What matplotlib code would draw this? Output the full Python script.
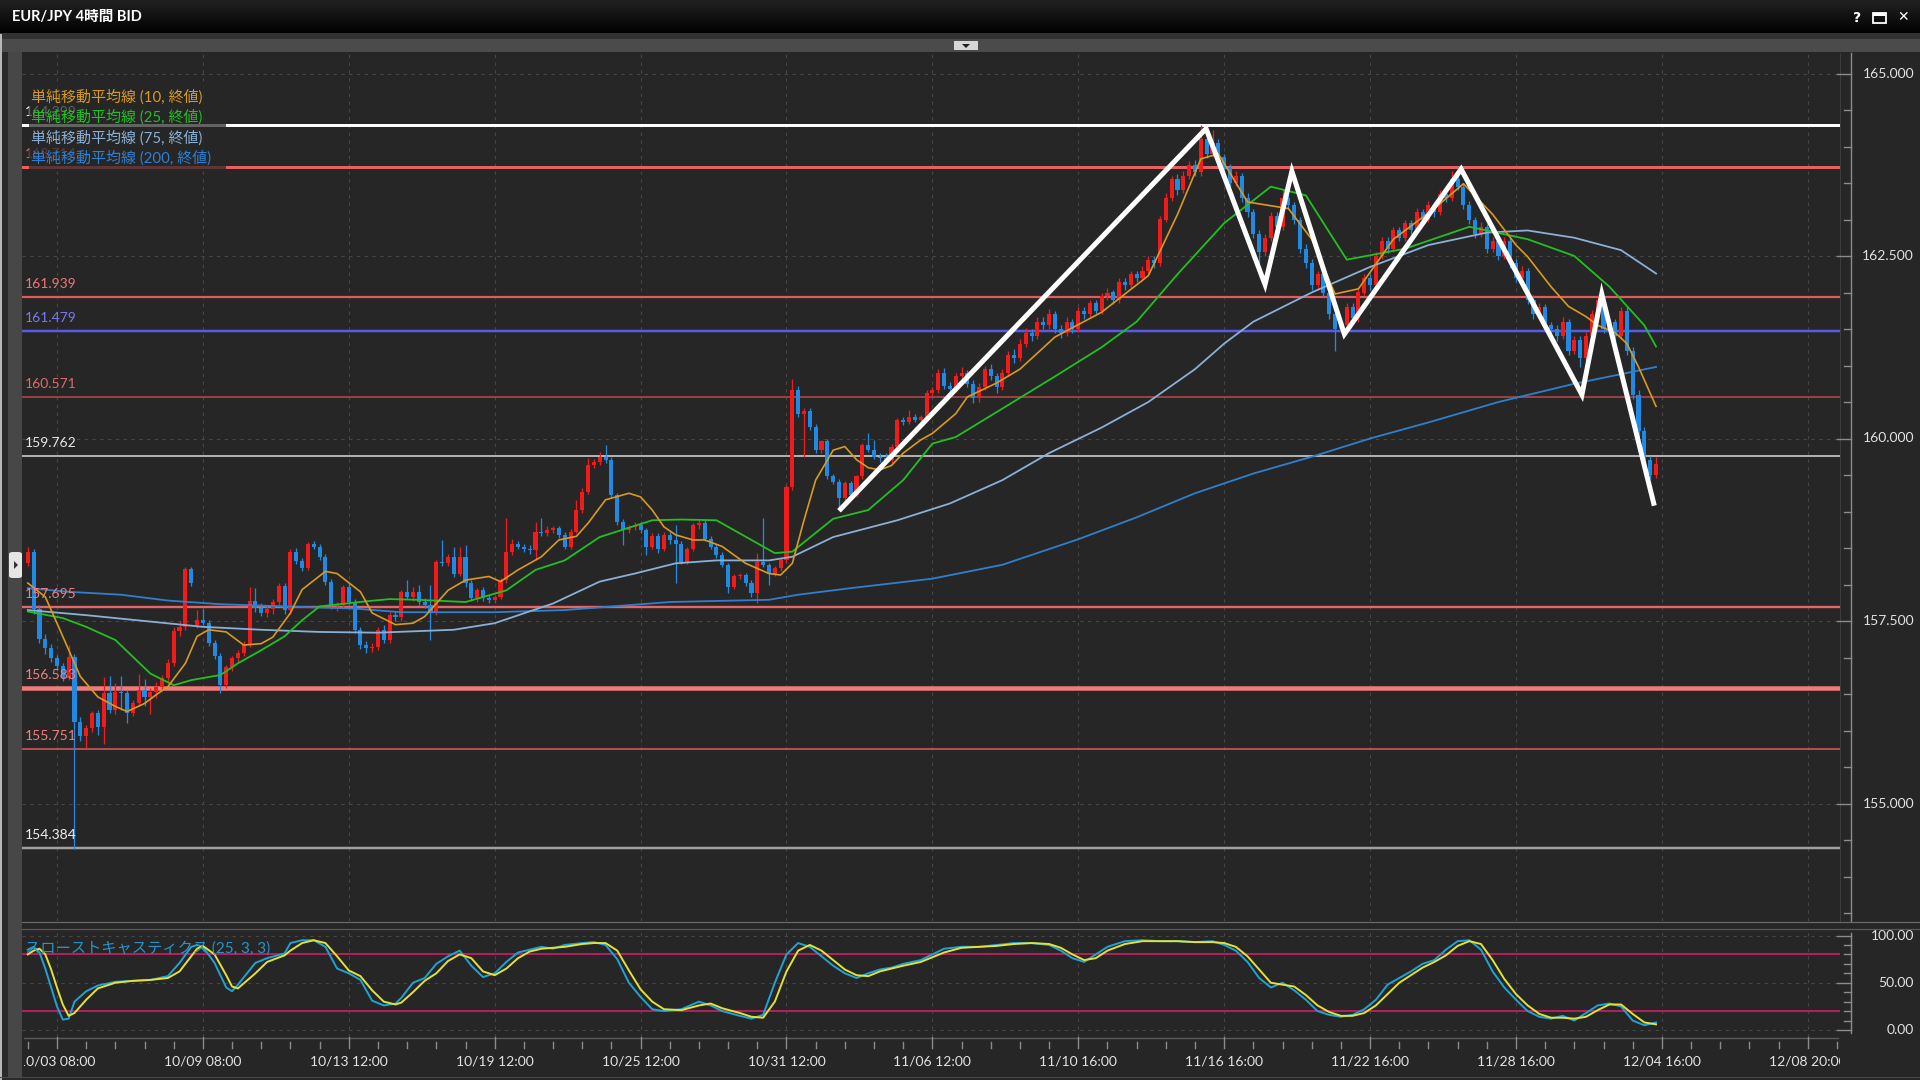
import numpy as np
import matplotlib
matplotlib.use("Agg")
import matplotlib.pyplot as plt
from matplotlib.patches import Rectangle, Polygon, FancyBboxPatch
from matplotlib.lines import Line2D
import matplotlib.transforms as mtransforms

# ---------------- data (EUR/JPY 4H candles) ----------------
opens = [
    158.29,158.45,157.67,157.26,157.13,156.99,156.88,156.72,157.01,156.12,
    155.92,156.03,156.24,156.05,156.51,156.28,156.53,156.51,156.24,156.37,
    156.56,156.46,156.53,156.60,156.72,156.92,157.36,157.42,158.21,157.44,
    157.51,157.47,157.20,157.02,156.62,156.87,156.99,157.06,157.17,157.77,
    157.68,157.61,157.66,157.76,157.98,157.65,158.45,158.32,158.22,158.56,
    158.52,158.38,158.04,157.70,157.72,157.97,157.76,157.38,157.17,157.13,
    157.15,157.38,157.24,157.58,157.56,157.90,157.83,157.90,157.76,157.72,
    157.62,158.31,158.29,158.38,158.15,158.38,158.02,157.81,157.92,157.81,
    157.79,157.83,158.06,158.45,158.56,158.52,158.49,158.47,158.72,158.70,
    158.75,158.77,158.68,158.52,158.72,159.02,159.27,159.64,159.68,159.75,
    159.71,159.23,158.86,158.75,158.79,158.81,158.75,158.52,158.66,158.49,
    158.68,158.61,158.56,158.31,158.49,158.81,158.84,158.63,158.52,158.40,
    158.27,157.97,158.11,158.13,158.02,157.88,158.31,158.27,158.15,158.22,
    158.34,159.34,160.66,160.34,160.38,160.16,159.84,159.96,159.48,159.41,
    159.18,159.39,159.23,159.48,159.91,159.84,159.75,159.73,159.70,159.89,
    160.25,160.23,160.30,160.25,160.30,160.62,160.66,160.90,160.72,160.68,
    160.85,160.90,160.75,160.55,160.70,160.95,160.85,160.70,160.90,161.15,
    161.10,161.30,161.45,161.40,161.60,161.55,161.70,161.50,161.45,161.60,
    161.50,161.75,161.70,161.85,161.75,161.95,162.00,161.90,162.15,162.10,
    162.25,162.20,162.30,162.45,162.40,163.00,163.30,163.55,163.40,163.60,
    163.75,163.65,164.10,163.90,164.05,163.85,163.70,163.50,163.60,163.30,
    163.10,162.80,162.55,162.75,163.05,162.90,163.30,163.20,163.00,162.60,
    162.40,162.10,162.25,162.00,161.70,161.50,161.55,161.80,161.65,162.00,
    162.20,162.10,162.50,162.70,162.60,162.85,162.75,162.95,162.85,163.10,
    163.00,163.20,163.10,163.35,163.30,163.55,163.45,163.20,163.00,162.80,
    162.90,162.60,162.70,162.50,162.70,162.40,162.20,162.30,161.90,161.70,
    161.80,161.55,161.50,161.40,161.60,161.20,161.35,161.10,161.40,161.70,
    161.90,161.50,161.60,161.40,161.75,161.20,160.60,160.10,159.70,159.50,
]
closes = [
    158.45,157.67,157.26,157.13,156.99,156.88,156.72,157.01,156.12,155.92,
    156.03,156.24,156.05,156.51,156.28,156.53,156.51,156.24,156.37,156.56,
    156.46,156.53,156.60,156.72,156.92,157.36,157.42,158.21,158.02,157.51,
    157.47,157.20,157.02,156.62,156.87,156.99,157.06,157.17,157.77,157.68,
    157.61,157.66,157.76,157.98,157.65,158.45,158.32,158.22,158.56,158.52,
    158.38,158.04,157.70,157.72,157.97,157.76,157.38,157.17,157.13,157.15,
    157.38,157.24,157.58,157.56,157.90,157.83,157.90,157.76,157.72,157.62,
    158.31,158.29,158.38,158.15,158.38,158.02,157.81,157.92,157.81,157.79,
    157.83,158.06,158.45,158.56,158.52,158.49,158.47,158.72,158.70,158.75,
    158.77,158.68,158.52,158.72,159.02,159.27,159.64,159.68,159.75,159.71,
    159.23,158.86,158.75,158.79,158.81,158.75,158.52,158.66,158.49,158.68,
    158.61,158.56,158.31,158.49,158.81,158.84,158.63,158.52,158.40,158.27,
    157.97,158.11,158.13,158.02,157.88,158.31,158.27,158.15,158.22,158.34,
    159.34,160.66,160.34,160.38,160.16,159.84,159.96,159.48,159.41,159.18,
    159.39,159.23,159.48,159.91,159.84,159.75,159.73,159.70,159.89,160.25,
    160.23,160.30,160.25,160.30,160.62,160.66,160.90,160.72,160.68,160.85,
    160.90,160.75,160.55,160.70,160.95,160.85,160.70,160.90,161.15,161.10,
    161.30,161.45,161.40,161.60,161.55,161.70,161.50,161.45,161.60,161.50,
    161.75,161.70,161.85,161.75,161.95,162.00,161.90,162.15,162.10,162.25,
    162.20,162.30,162.45,162.40,163.00,163.30,163.55,163.40,163.60,163.75,
    163.65,164.10,163.90,164.05,163.85,163.70,163.50,163.60,163.30,163.10,
    162.80,162.55,162.75,163.05,162.90,163.30,163.20,163.00,162.60,162.40,
    162.10,162.25,162.00,161.70,161.50,161.55,161.80,161.65,162.00,162.20,
    162.10,162.50,162.70,162.60,162.85,162.75,162.95,162.85,163.10,163.00,
    163.20,163.10,163.35,163.30,163.55,163.45,163.20,163.00,162.80,162.90,
    162.60,162.70,162.50,162.70,162.40,162.20,162.30,161.90,161.70,161.80,
    161.55,161.50,161.40,161.60,161.20,161.35,161.10,161.40,161.70,161.90,
    161.50,161.60,161.40,161.75,161.20,160.60,160.10,159.70,159.50,159.65,
]
highs = [
    158.52,158.48,157.72,157.32,157.18,157.04,156.92,157.17,157.05,156.18,
    156.08,156.27,156.28,156.73,156.74,156.65,156.74,156.56,156.42,156.78,
    156.71,156.58,156.66,156.76,156.98,157.42,157.50,158.24,158.24,157.65,
    157.66,157.52,157.24,157.06,156.90,157.02,157.10,157.22,157.97,157.95,
    157.74,157.70,157.80,158.02,158.02,158.48,158.50,158.36,158.58,158.60,
    158.55,158.42,158.08,157.76,158.00,158.02,157.80,157.42,157.22,157.20,
    157.42,157.44,157.62,157.64,157.93,158.06,157.96,157.99,157.82,157.99,
    158.34,158.61,158.42,158.52,158.52,158.54,158.06,157.95,157.96,157.86,
    157.86,158.09,158.91,158.63,158.60,158.56,158.54,158.86,158.91,158.80,
    158.80,158.80,158.72,158.76,159.16,159.32,159.73,159.72,159.82,159.91,
    159.74,159.26,158.90,158.82,158.86,158.86,158.78,158.70,158.70,158.72,
    158.72,158.81,158.60,158.52,158.84,158.88,158.88,158.66,158.56,158.44,
    158.30,158.14,158.16,158.16,158.06,158.43,158.91,158.30,158.26,158.36,
    159.36,160.82,160.72,160.42,160.42,160.20,159.98,160.00,159.52,159.45,
    159.42,159.42,159.50,159.94,160.07,159.98,159.80,159.80,159.92,160.28,
    160.30,160.39,160.34,160.32,160.66,160.70,160.95,160.96,160.78,160.90,
    160.98,160.94,160.80,160.76,161.00,161.02,160.90,160.95,161.20,161.22,
    161.36,161.52,161.50,161.66,161.66,161.78,161.74,161.56,161.66,161.64,
    161.80,161.80,161.90,161.90,162.00,162.06,162.04,162.20,162.20,162.30,
    162.30,162.36,162.50,162.50,163.05,163.36,163.60,163.62,163.66,163.80,
    163.82,164.30,164.16,164.22,164.10,163.90,163.76,163.66,163.64,163.36,
    163.14,162.86,162.80,163.10,163.10,163.40,163.36,163.24,163.04,162.66,
    162.46,162.30,162.30,162.06,161.76,161.60,161.86,161.86,162.06,162.26,
    162.26,162.56,162.76,162.76,162.90,162.90,163.00,163.00,163.16,163.14,
    163.26,163.24,163.40,163.40,163.66,163.70,163.50,163.26,163.04,162.96,
    162.94,162.76,162.74,162.76,162.74,162.46,162.36,162.34,161.96,161.86,
    161.84,161.60,161.56,161.66,161.64,161.40,161.40,161.46,161.76,161.96,
    161.94,161.66,161.64,161.80,161.80,161.26,160.66,160.16,159.76,159.74,
]
lows = [
    158.25,157.60,157.20,157.05,156.94,156.83,156.68,156.69,154.38,155.85,
    155.76,155.98,155.94,155.82,156.24,156.22,156.28,156.10,156.20,156.33,
    156.33,156.23,156.45,156.55,156.68,156.88,157.30,157.38,157.98,157.40,
    157.44,157.16,156.98,156.51,156.58,156.82,156.94,157.02,157.14,157.63,
    157.57,157.55,157.60,157.72,157.60,157.60,158.28,158.18,158.20,158.48,
    158.34,158.00,157.66,157.64,157.68,157.72,157.34,157.12,157.06,157.08,
    157.10,157.20,157.20,157.50,157.50,157.80,157.78,157.72,157.68,157.24,
    157.58,158.26,158.26,158.10,158.12,157.97,157.78,157.76,157.78,157.74,
    157.74,157.80,158.02,158.40,158.48,158.44,158.42,158.34,158.66,158.66,
    158.70,158.64,158.48,158.48,158.70,158.98,159.24,159.60,159.64,159.66,
    159.18,158.82,158.54,158.70,158.74,158.70,158.40,158.48,158.43,158.46,
    158.56,158.02,158.28,158.28,158.46,158.76,158.60,158.48,158.36,158.24,
    157.88,157.94,158.08,157.98,157.83,157.74,158.24,158.00,158.12,158.18,
    158.30,159.30,160.30,159.75,160.12,159.80,159.80,159.45,159.38,159.02,
    159.14,159.20,159.20,159.45,159.82,159.72,159.68,159.66,159.66,159.86,
    160.18,160.20,160.22,160.20,160.26,160.58,160.62,160.68,160.60,160.64,
    160.80,160.70,160.48,160.50,160.66,160.80,160.62,160.66,160.86,161.04,
    161.06,161.26,161.34,161.36,161.50,161.50,161.44,161.38,161.40,161.44,
    161.46,161.64,161.66,161.70,161.70,161.90,161.84,161.86,162.04,162.06,
    162.14,162.16,162.26,162.34,162.36,162.96,163.26,163.34,163.36,163.56,
    163.60,163.60,163.84,163.86,163.80,163.64,163.44,163.46,163.24,163.04,
    162.74,162.40,162.50,162.70,162.84,162.86,163.14,162.94,162.54,162.34,
    162.04,162.04,161.94,161.64,161.20,161.44,161.50,161.60,161.60,161.96,
    162.04,162.06,162.46,162.54,162.56,162.70,162.70,162.80,162.80,162.94,
    162.96,163.04,163.06,163.24,163.26,163.40,163.14,162.94,162.74,162.76,
    162.54,162.56,162.44,162.46,162.34,162.14,162.16,161.84,161.64,161.66,
    161.50,161.44,161.34,161.36,161.14,161.16,160.98,161.06,161.36,161.66,
    161.44,161.46,161.34,161.36,161.14,160.54,160.04,159.64,159.44,159.46,
]

# simple moving averages (at sample bars)
sma10_x = [0,3,5,9,12,15,17,20,22,24,27,29,31,34,37,40,42,45,47,51,53,57,59,63,66,
           68,72,75,79,81,84,88,91,94,96,99,103,105,107,109,111,114,116,119,123,127,129,
           131,133,135,138,140,142,144,146,148,150,153,155,159,161,166,170,176,184,192,
           197,201,204,209,216,220,224,228,234,241,246,251,255,257,261,264,267,269,272,274,276,279]
sma10_y = [158.02,157.83,157.47,156.74,156.46,156.33,156.26,156.37,156.49,156.60,156.92,157.29,
           157.38,157.35,157.17,157.19,157.28,157.61,157.93,158.18,158.15,157.90,157.61,157.45,157.47,
           157.56,157.92,158.06,158.11,158.04,158.20,158.38,158.61,158.66,158.84,159.16,159.25,159.20,
           159.02,158.79,158.68,158.61,158.61,158.52,158.29,158.15,158.13,
           158.29,158.88,159.43,159.84,159.89,159.71,159.60,159.57,159.63,159.80,159.98,160.07,160.34,
           160.57,160.76,160.95,161.39,161.73,162.23,163.07,163.83,163.90,163.24,163.15,162.73,161.98,
           162.05,162.73,163.15,163.49,163.07,162.65,162.49,162.08,161.81,161.67,161.55,161.45,161.30,160.98,160.44]
sma25_x = [0,6,10,15,18,21,25,28,33,36,40,44,47,50,58,62,67,75,82,87,92,98,107,112,118,
           124,128,131,138,144,150,155,159,167,176,184,190,197,205,213,219,226,236,247,
           257,265,271,277,279]
sma25_y = [157.63,157.54,157.42,157.24,157.01,156.78,156.62,156.69,156.76,156.92,157.10,157.29,
           157.51,157.70,157.77,157.80,157.79,157.76,157.92,158.20,158.33,158.65,158.88,158.89,158.88,
           158.61,158.43,158.45,158.90,159.02,159.43,159.93,160.02,160.41,160.85,161.25,161.6,162.25,
           162.95,163.45,163.33,162.45,162.6,162.9,162.73,162.5,162.08,161.55,161.26]
sma75_x = [0,10,20,30,40,50,60,73,80,90,98,104,111,118,127,131,138,149,158,167,175,
           184,192,200,205,210,220,230,240,250,257,265,273,279]
sma75_y = [157.65,157.58,157.50,157.42,157.38,157.35,157.34,157.38,157.47,157.74,158.04,158.15,
           158.29,158.33,158.33,158.38,158.65,158.88,159.11,159.43,159.80,160.15,160.50,160.95,
           161.30,161.60,162.00,162.35,162.65,162.82,162.85,162.75,162.58,162.26]
sma200_x = [0,7,16,24,33,44,56,64,80,92,110,121,127,132,141,155,167,180,190,200,210,220,
            230,240,252,265,279]
sma200_y = [157.95,157.90,157.86,157.78,157.73,157.70,157.67,157.62,157.62,157.65,157.76,157.78,
            157.79,157.86,157.95,158.08,158.27,158.62,158.92,159.25,159.52,159.75,160.00,160.22,
            160.50,160.75,160.98]

# slow stochastics (25, 3, 3)
stoch_x = [0,1,2,3,4,5,6,7,8,10,12,15,18,21,24,26,28,29,30,32,34,35,36,39,41,44,45,47,49,51,53,
           55,57,59,61,63,64,66,68,70,72,74,76,78,80,82,84,86,88,90,92,95,97,99,101,103,105,107,
           109,112,115,117,119,122,124,126,128,130,132,134,136,138,140,142,144,146,148,150,153,155,
           157,160,163,166,169,172,175,177,179,181,183,185,188,191,194,197,200,203,205,207,209,211,
           213,215,217,219,221,223,225,227,229,231,233,235,237,239,241,243,245,247,249,251,253,255,
           257,259,261,263,265,267,269,271,273,275,277,279]
stoch_k = [85,88,82,65,45,25,11,12,30,41,47,51,52,53,57,71,88,90,88,71,45,41,48,71,76,81,92,95,95,88,65,
           60,53,31,26,28,34,50,55,70,78,84,68,56,60,72,82,85,88,86,90,92,93,90,75,50,35,22,
           20,22,30,26,20,15,12,16,50,80,92,88,78,68,60,55,60,64,66,70,74,80,
           86,88,88,90,92,92,90,84,76,72,80,88,94,95,94,94,93,94,90,84,72,55,
           45,50,42,32,20,16,14,16,22,32,48,55,62,70,74,85,94,95,85,62,45,32,
           20,14,12,15,10,18,26,28,25,10,5,8]
stoch_d = [80,84,86,80,64,45,27,15,18,32,44,50,52,53,55,62,78,86,89,80,58,46,44,60,72,79,84,92,95,92,78,
           63,57,42,30,27,29,40,52,60,73,80,76,62,58,65,76,83,86,87,88,91,92,92,84,63,43,30,
           22,21,26,28,23,18,14,13,30,62,84,90,84,74,64,58,57,62,65,68,72,77,
           82,87,88,89,91,92,91,87,80,74,76,84,91,94,94,94,93,93,92,88,78,64,
           50,48,46,37,26,19,15,15,18,26,38,50,58,66,72,79,89,94,91,74,54,38,
           26,17,13,13,12,14,21,27,27,17,8,6]

# horizontal price levels
level_values = [164.299, 163.714, 161.939, 161.479, 160.571, 159.762, 157.695, 156.583, 155.751, 154.384]
level_labels = ['164.299', '163.714', '161.939', '161.479', '160.571', '159.762',
                '157.695', '156.583', '155.751', '154.384']

# hand-drawn pattern (white polyline)
pattern_x = [139.0, 201.9, 212.0, 216.6, 225.6, 245.6, 266.3, 269.7, 278.7]
pattern_y = [159.01, 164.245, 162.11, 163.66, 161.43, 163.69, 160.60, 161.98, 159.08]

x_label_idx = [5, 30, 55, 80, 105, 130, 155, 180, 205, 230, 255, 280, 305]
x_labels = ['10/03 08:00', '10/09 08:00', '10/13 12:00', '10/19 12:00', '10/25 12:00',
            '10/31 12:00', '11/06 12:00', '11/10 16:00', '11/16 16:00', '11/22 16:00',
            '11/28 16:00', '12/04 16:00', '12/08 20:00']
price_ticks = [155.0, 157.5, 160.0, 162.5, 165.0]
stoch_ticks = [0, 50, 100]

legend_labels = ['単純移動平均線 (10, 終値)', '単純移動平均線 (25, 終値)',
                 '単純移動平均線 (75, 終値)', '単純移動平均線 (200, 終値)']

# ---------------- styles ----------------
W, H = 1920, 1080
BG = '#262626'
RED = '#f21b1b'
BLUE = '#2289e3'
C10, C25, C75, C200 = '#d89a22', '#22c022', '#8ab0d6', '#2f7fd0'
level_colors = ['#ffffff', '#e85f5f', '#e35a5a', '#5a5ae8', '#b04a4a', '#b0b0b0',
                '#e46666', '#f27a7a', '#d25a5a', '#a0a0a0']
level_lw_px = [3.0, 3.0, 2.2, 2.5, 1.6, 2.0, 2.4, 4.5, 1.6, 2.5]
level_txt_colors = ['#ffffff', '#ef6b6b', '#ee7777', '#7a7af2', '#dd6a6a', '#e8e8e8',
                    '#ee8080', '#ee8080', '#ee8080', '#eeeeee']
NUMFONT = 'Lato'
JPFONT = ['Lato', 'Noto Sans CJK JP', 'DejaVu Sans']

X0_PX, BAR_PX = 27.8, 5.836
def px2i(px):
    return (px - X0_PX) / BAR_PX
def py2price(py):
    return 165.0 - (py - 73.5) / 73.0
def py2stoch(py):
    return (1030.0 - py) / 0.945
PT = 0.72  # points per pixel at dpi 100

fig = plt.figure(figsize=(19.2, 10.8), dpi=100)
fig.patch.set_facecolor(BG)

def add_ax(x0, y0, x1, y1, z=0):
    a = fig.add_axes([x0 / W, 1 - y1 / H, (x1 - x0) / W, (y1 - y0) / H], zorder=z)
    a.set_axis_off()
    return a

def frect(x0, y0, x1, y1, color, z=-1, alpha=1.0):
    fig.add_artist(Rectangle((x0 / W, 1 - y1 / H), (x1 - x0) / W, (y1 - y0) / H,
                             transform=fig.transFigure, facecolor=color, edgecolor='none',
                             zorder=z, alpha=alpha))

def fline(x0, y0, x1, y1, color, lw_px, z=5):
    fig.add_artist(Line2D([x0 / W, x1 / W], [1 - y0 / H, 1 - y1 / H], transform=fig.transFigure,
                          color=color, lw=lw_px * PT, zorder=z))

def ftext(x, y, s, **kw):
    fig.text(x / W, 1 - y / H, s, **kw)

# ---------------- window chrome ----------------
tb = add_ax(0, 0, 1920, 34, z=-2)
grad = np.linspace(0.13, 0.0, 50).reshape(-1, 1)
tb.imshow(np.dstack([grad, grad, grad]), aspect='auto', extent=[0, 1, 0, 1])
frect(0, 33, 1920, 39, '#323232')
frect(0, 39, 1920, 52, '#4b4b4b')
frect(0, 52, 22, 1080, '#2a2a2a')
frect(8, 52, 22, 1078, '#474747')
frect(0, 34, 2, 1080, '#b8b8b8')
frect(954, 41, 978, 50, '#d6d6d6', z=3)
fig.add_artist(Polygon([[962 / W, 1 - 44 / H], [970 / W, 1 - 44 / H], [966 / W, 1 - 48 / H]],
                       closed=True, transform=fig.transFigure, facecolor='#202020', zorder=4))
ftext(12, 17, 'EUR/JPY 4時間 BID', family=JPFONT, fontsize=10.5, fontweight='bold',
      color='white', va='center', ha='left')
ftext(1857, 18, '?', family='DejaVu Sans', fontsize=10, fontweight='bold', color='white',
      va='center', ha='center')
fig.add_artist(Rectangle((1873 / W, 1 - 23 / H), 13 / W, 10 / H, transform=fig.transFigure,
                         facecolor='none', edgecolor='white', lw=1.3, zorder=3))
fig.add_artist(Rectangle((1873 / W, 1 - 16 / H), 13 / W, 3 / H, transform=fig.transFigure,
                         facecolor='white', edgecolor='none', zorder=3))
ftext(1903, 17, '✕', family='DejaVu Sans', fontsize=10, fontweight='bold', color='white',
      va='center', ha='center')

# left small arrow button
fig.add_artist(FancyBboxPatch((9 / W, 1 - 578 / H), 13 / W, 26 / H,
                              boxstyle='round,pad=0,rounding_size=0.002',
                              transform=fig.transFigure, facecolor='#e6e6e6', edgecolor='none', zorder=3))
fig.add_artist(Polygon([[14 / W, 1 - 561 / H], [14 / W, 1 - 569 / H], [18 / W, 1 - 565 / H]],
                       closed=True, transform=fig.transFigure, facecolor='#333333', zorder=4))

# ---------------- main price panel ----------------
XL = (px2i(22), px2i(1840))
YL = (py2price(921), py2price(53))
ax = add_ax(22, 53, 1840, 921, z=0)
ax.set_axis_on()
ax.set_facecolor(BG)
for s in ax.spines.values():
    s.set_visible(False)
ax.set_xticks([]); ax.set_yticks([])
ax.set_xlim(*XL); ax.set_ylim(*YL)

grid_kw = dict(color='#474747', lw=0.8, ls=(0, (3, 4)), zorder=1)
for xi in x_label_idx:
    ax.axvline(xi, **grid_kw)
for pv in price_ticks:
    ax.axhline(pv, **grid_kw)

for v, col, lwp in zip(level_values, level_colors, level_lw_px):
    ax.axhline(v, color=col, lw=lwp * PT, zorder=2)
blend = mtransforms.blended_transform_factory(ax.transAxes, ax.transData)
lab_tr = mtransforms.offset_copy(blend, fig=fig, x=0, y=13, units='dots')
for v, lab, tc in zip(level_values, level_labels, level_txt_colors):
    ax.text(0.0015, v, lab, transform=lab_tr, family=NUMFONT, fontsize=10, color=tc,
            va='center', ha='left', zorder=7)

xi = np.arange(len(closes))
o = np.array(opens); c = np.array(closes); h = np.array(highs); l = np.array(lows)
cols = np.where(c >= o, RED, BLUE)
ax.vlines(xi, l, h, colors=cols, lw=1.0 * PT * 1.3, zorder=3)
ax.bar(xi, np.maximum(np.abs(c - o), 0.012), bottom=np.minimum(o, c), width=0.7,
       color=cols, linewidth=0, zorder=4)

ax.plot(sma200_x, sma200_y, color=C200, lw=1.3, zorder=5)
ax.plot(sma75_x, sma75_y, color=C75, lw=1.3, zorder=5)
ax.plot(sma25_x, sma25_y, color=C25, lw=1.3, zorder=5)
ax.plot(sma10_x, sma10_y, color=C10, lw=1.2, zorder=5)

ax.plot(pattern_x, pattern_y, color='white', lw=3.6, zorder=6,
        solid_joinstyle='miter', solid_capstyle='butt')

# legend box (translucent) + text
frect(29, 84, 226, 171, BG, z=2, alpha=0.72)
for k, (txt, col) in enumerate(zip(legend_labels, [C10, C25, C75, C200])):
    ftext(31, 97 + k * 20.3, txt, family=JPFONT, fontsize=10.8, color=col, va='center',
          ha='left', zorder=3)

# right price axis
axR = add_ax(1840, 53, 1920, 921, z=1)
axR.set_xlim(1840, 1920); axR.set_ylim(*YL)
axR.plot([1851, 1851], YL, color='#8c8c8c', lw=1.0, clip_on=False)
for pv in np.arange(153.5, 165.01, 0.5):
    major = abs(pv / 2.5 - round(pv / 2.5)) < 1e-6
    axR.plot([1837 if major else 1844, 1851], [pv, pv], color='#8c8c8c', lw=1.0, clip_on=False)
for pv in price_ticks:
    axR.text(1914, pv, f'{pv:.3f}', family=NUMFONT, fontsize=10, color='#e2e2e2',
             ha='right', va='center')
fline(1840, 53, 1840, 921, '#3c3c3c', 1.0, z=1)

# panel separators
fline(22, 921.5, 1920, 921.5, '#6a6a6a', 1.2, z=2)
fline(22, 928.5, 1920, 928.5, '#5a5a5a', 1.2, z=2)

# ---------------- stochastic panel ----------------
SL = (py2stoch(1037), py2stoch(929))
axS = add_ax(22, 929, 1840, 1037, z=0)
axS.set_axis_on()
axS.set_facecolor(BG)
for s in axS.spines.values():
    s.set_visible(False)
axS.set_xticks([]); axS.set_yticks([])
axS.set_xlim(*XL); axS.set_ylim(*SL)
for xv in x_label_idx:
    axS.axvline(xv, **grid_kw)
for sv in stoch_ticks:
    axS.axhline(sv, **grid_kw)
axS.axhline(80, color='#b3205e', lw=1.5 * PT * 1.3, zorder=2)
axS.axhline(20, color='#b3205e', lw=1.5 * PT * 1.3, zorder=2)
axS.plot(stoch_x, stoch_k, color='#1ea2d8', lw=1.4, zorder=4)
axS.plot(stoch_x, stoch_d, color='#e2e236', lw=1.4, zorder=5)
axS.text(0.0015, 0.82, 'スローストキャスティクス (25, 3, 3)', transform=axS.transAxes,
         family=JPFONT, fontsize=11, color='#2a93c8', va='center', ha='left', zorder=8)

axSR = add_ax(1840, 929, 1920, 1037, z=1)
axSR.set_xlim(1840, 1920); axSR.set_ylim(*SL)
axSR.plot([1851, 1851], [0 - 3, 100 + 3], color='#8c8c8c', lw=1.0, clip_on=False)
for sv in range(0, 101, 10):
    major = sv % 50 == 0
    axSR.plot([1837 if major else 1844, 1851], [sv, sv], color='#8c8c8c', lw=1.0, clip_on=False)
for sv in stoch_ticks:
    axSR.text(1914, sv, f'{sv:.2f}', family=NUMFONT, fontsize=10, color='#e2e2e2',
              ha='right', va='center')

# ---------------- time axis ----------------
axX = add_ax(24, 1037, 1840, 1078, z=1)
axX.set_xlim(px2i(24), px2i(1840)); axX.set_ylim(1078, 1037)
axX.plot([px2i(24), px2i(1838)], [1037.5, 1037.5], color='#5a5a5a', lw=1.0)
for t in range(0, 311, 5):
    major = t in x_label_idx
    axX.plot([t, t], [1037 if major else 1042, 1048], color='#8c8c8c', lw=1.0)
for t, lab in zip(x_label_idx, x_labels):
    axX.text(t, 1062, lab, family=NUMFONT, fontsize=10, color='#e2e2e2', ha='center',
             va='center', clip_on=True)
fline(0, 1077, 1920, 1077, '#4a4a4a', 1.0, z=2)

fig.savefig('out.png', dpi=100, facecolor=BG)
